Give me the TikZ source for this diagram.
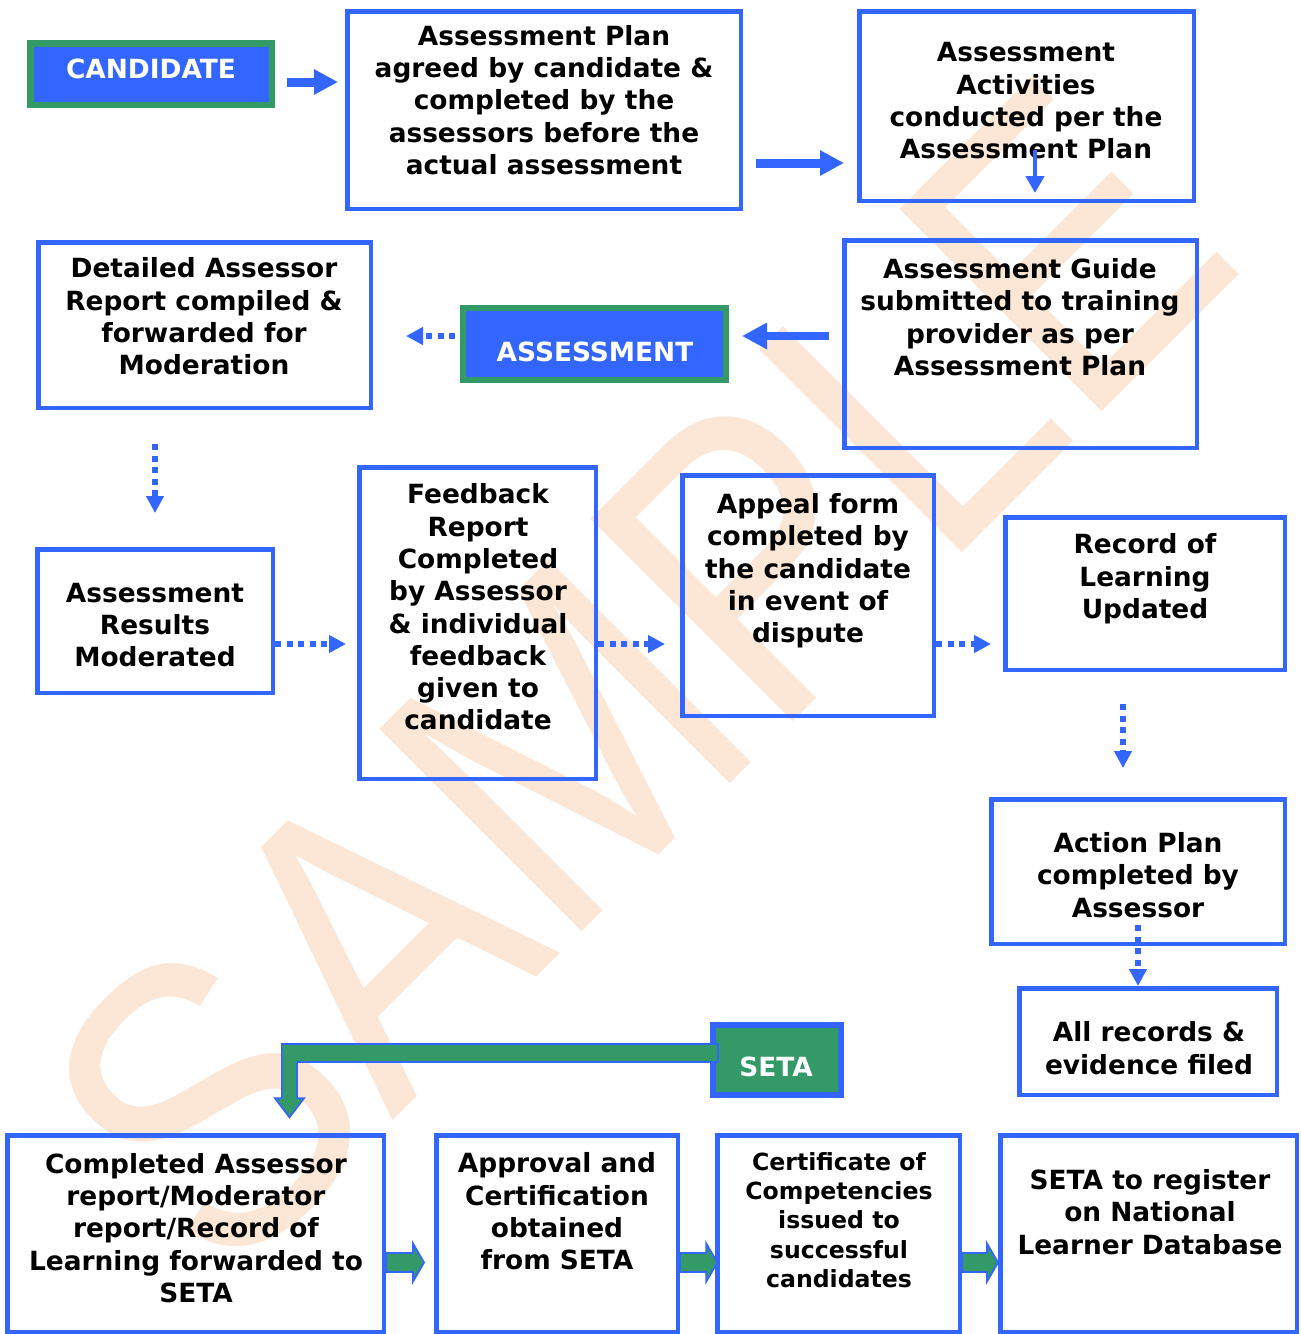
\documentclass[tikz,border=0pt]{standalone}
\usepackage{fontspec}
\setmainfont{DejaVu Sans}
\newfontfamily\wmfont{Liberation Sans}
\usetikzlibrary{arrows.meta,calc}
\definecolor{bblue}{RGB}{51,102,255}
\definecolor{ggreen}{RGB}{51,153,102}
\definecolor{wmark}{RGB}{252,230,214}
\newcommand\GrArrow[2]{\draw[garrowsty] ($(#1)+(0,9.5)$) -- ($(#2)+(-11,9.5)$) -- ($(#2)+(-11,19)$) -- (#2) -- ($(#2)+(-11,-19)$) -- ($(#2)+(-11,-9.5)$) -- ($(#1)+(0,-9.5)$) -- cycle;}
\begin{document}
\begin{tikzpicture}[x=1pt,y=-1pt,
  box/.style={draw=bblue, line width=4.5pt, rectangle, inner sep=0pt, outer sep=0pt},
  gbox/.style={draw=ggreen, fill=bblue, line width=6.5pt, rectangle, inner sep=0pt, outer sep=0pt},
  sbox/.style={draw=bblue, fill=ggreen, line width=6pt, rectangle, inner sep=0pt, outer sep=0pt},
  txt/.style={font=\bfseries\fontsize{26.4}{32.3}\selectfont, align=center, inner sep=0pt},
  stxt/.style={font=\bfseries\fontsize{23.6}{29.2}\selectfont, align=center, inner sep=0pt},
  wtxt/.style={font=\bfseries\fontsize{26.4}{32.3}\selectfont, text=white, inner sep=0pt},
  solidarr/.style={draw=bblue, line width=9pt, -{Triangle[length=24pt,width=24pt]}},
  solidarrb/.style={draw=bblue, line width=8pt, -{Triangle[length=25pt,width=25pt]}},
  smallarr/.style={draw=bblue, line width=4.5pt, -{Triangle[length=17pt,width=18pt]}},
  dotarr/.style={draw=bblue, line width=5.5pt, dash pattern=on 6pt off 5.5pt, -{Triangle[length=17pt,width=17pt]}},
  garrowsty/.style={fill=ggreen, draw=bblue, line width=1.8pt, line join=miter},
  wm/.style={font=\wmfont\fontsize{416}{416}\selectfont, text=wmark, inner sep=0pt}
]
\useasboundingbox (0,0) rectangle (1301,1334);
% watermark
\node[wm, rotate=45] (wmk) at (636,676) {\scalebox{0.86}[1]{SAMPLE}};

% boxes
\node[gbox, minimum width=241.5pt, minimum height=61.5pt] (cand) at (151,74) {};
\node[wtxt] (tcand) at (151,69) {CANDIDATE};
\node[box, minimum width=393.5pt, minimum height=197.5pt] (plan) at (544,110) {};
\node[txt] (tplan) at (544,100) {Assessment Plan\\agreed by candidate \&\\completed by the\\assessors before the\\actual assessment};
\node[box, minimum width=334.5pt, minimum height=189.5pt] (act) at (1026.5,106) {};
\node[txt] (tact) at (1026,101) {Assessment\\Activities\\conducted per the\\Assessment Plan};
\node[box, minimum width=352.5pt, minimum height=207.5pt] (guide) at (1020.5,344) {};
\node[txt] (tguide) at (1020,317) {Assessment Guide\\submitted to training\\provider as per\\Assessment Plan};
\node[gbox, line width=6pt, minimum width=263pt, minimum height=72pt] (assess) at (594.5,344) {};
\node[wtxt] (tassess) at (595,352) {ASSESSMENT};
\node[box, minimum width=332.5pt, minimum height=165.5pt] (det) at (204.5,325) {};
\node[txt] (tdet) at (204,316.5) {Detailed Assessor\\Report compiled \&\\forwarded for\\Moderation};
\node[box, minimum width=235.5pt, minimum height=143.5pt] (res) at (155,621) {};
\node[txt] (tres) at (155,625) {Assessment\\Results\\Moderated};
\node[box, minimum width=236.5pt, minimum height=311.5pt] (fb) at (477.5,623) {};
\node[txt] (tfb) at (478,607) {Feedback\\Report\\Completed\\by Assessor\\\& individual\\feedback\\given to\\candidate};
\node[box, minimum width=251.5pt, minimum height=240.5pt] (appeal) at (808,595.5) {};
\node[txt] (tappeal) at (808,571) {Appeal form\\completed by\\the candidate\\in event of\\dispute};
\node[box, minimum width=279.5pt, minimum height=152.5pt] (rec) at (1145,593.5) {};
\node[txt] (trec) at (1145,579) {Record of\\Learning\\Updated};
\node[box, minimum width=293.5pt, minimum height=144.5pt] (ap) at (1138,871.5) {};
\node[txt] (tap) at (1138,875) {Action Plan\\completed by\\Assessor};
\node[box, minimum width=257.5pt, minimum height=106.5pt] (allrec) at (1148,1041.5) {};
\node[txt] (tallrec) at (1149,1048) {All records \&\\evidence filed};
\node[sbox, minimum width=128pt, minimum height=70pt] (seta) at (777,1060) {};
\node[wtxt] (tseta) at (776,1067) {SETA};
\node[box, minimum width=376.5pt, minimum height=196.5pt] (comp) at (195.5,1233.5) {};
\node[txt] (tcomp) at (196,1228) {Completed Assessor\\report/Moderator\\report/Record of\\Learning forwarded to\\SETA};
\node[box, minimum width=241.5pt, minimum height=196.5pt] (appr) at (557,1233.5) {};
\node[txt] (tappr) at (557,1211.5) {Approval and\\Certification\\obtained\\from SETA};
\node[box, minimum width=242.5pt, minimum height=196.5pt] (cert) at (838.5,1233.5) {};
\node[stxt] (tcert) at (839,1220) {Certificate of\\Competencies\\issued to\\successful\\candidates};
\node[box, minimum width=296.5pt, minimum height=196.5pt] (reg) at (1148.5,1233.5) {};
\node[txt] (treg) at (1150,1212) {SETA to register\\on National\\Learner Database};

% solid arrows
\coordinate (a1s) at ([yshift=-8pt]cand.east);
\draw[solidarr, shorten <=15.25pt, shorten >=9.25pt] (a1s) -- (a1s -| plan.west);
\coordinate (a2s) at ([yshift=-53pt]plan.east);
\draw[solidarr, shorten <=15.25pt, shorten >=15.25pt] (a2s) -- (a2s -| act.west);
\coordinate (a3s) at ([xshift=8.5pt,yshift=-44pt]act.center);
\draw[smallarr, shorten >=7.75pt] (a3s) -- (a3s |- act.south);
\coordinate (a4s) at ([yshift=8pt]guide.west);
\draw[solidarrb, shorten <=15.25pt, shorten >=16pt] (a4s) -- (a4s -| assess.east);

% dotted arrows
\coordinate (a5s) at ([yshift=8pt]assess.west);
\draw[dotarr, shorten <=8pt, shorten >=35.25pt] (a5s) -- (a5s -| det.east);
\draw[dotarr, shorten <=36.25pt, shorten >=36.25pt] (res.north |- det.south) -- (res.north);
\coordinate (a7s) at ([yshift=-23pt]res.east);
\draw[dotarr, shorten <=2.25pt, shorten >=13.25pt] (a7s) -- (a7s -| fb.west);
\coordinate (a8s) at ([yshift=-21pt]fb.east);
\draw[dotarr, shorten <=2.25pt, shorten >=17.25pt] (a8s) -- (a8s -| appeal.west);
\coordinate (a9s) at ([yshift=-48.5pt]appeal.east);
\draw[dotarr, shorten <=2.25pt, shorten >=14.25pt] (a9s) -- (a9s -| rec.west);
\coordinate (a10s) at ([xshift=-22pt]rec.south);
\draw[dotarr, shorten <=34.25pt, shorten >=31.25pt] (a10s) -- (a10s |- ap.north);
\coordinate (a11s) at ([yshift=18.75pt]ap.south);
\draw[dotarr, shorten >=2.25pt] (a11s) -- (a11s |- allrec.north);

% green arrows
\coordinate (g1s) at ([yshift=-29pt,xshift=2.25pt]comp.east);
\coordinate (g1e) at ([yshift=-29pt,xshift=-12.25pt]appr.west);
\GrArrow{g1s}{g1e}
\coordinate (g2s) at ([yshift=-29pt,xshift=2.25pt]appr.east);
\coordinate (g2e) at ([yshift=-29pt]cert.west);
\GrArrow{g2s}{g2e}
\coordinate (g3s) at ([yshift=-29pt,xshift=2.25pt]cert.east);
\coordinate (g3e) at ([yshift=-29pt,xshift=-2.25pt]reg.west);
\GrArrow{g3s}{g3e}

% SETA L-arrow
\coordinate (ss) at ([yshift=7pt,xshift=5pt]seta.west);
\coordinate (st) at ([xshift=94pt,yshift=18pt]comp.north);
\draw[garrowsty] ($(ss)+(0,-9)$) -- ($(st |- ss)+(-7.5,-9)$) -- ($(st)+(-7.5,-19)$) -- ($(st)+(-14.5,-19)$) -- (st) -- ($(st)+(14.5,-19)$) -- ($(st)+(7.5,-19)$) -- ($(st |- ss)+(7.5,9)$) -- ($(ss)+(0,9)$) -- cycle;
\end{tikzpicture}
\end{document}
